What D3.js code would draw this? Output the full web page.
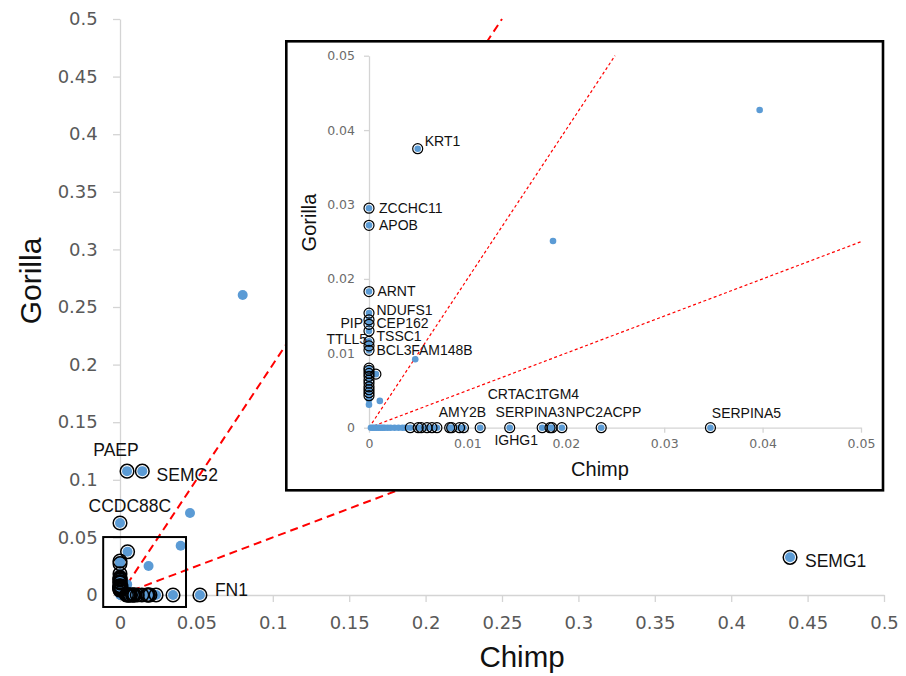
<!DOCTYPE html>
<html>
<head>
<meta charset="utf-8">
<script src="https://cdn.jsdelivr.net/npm/d3@7"></script>
<style>
  html, body { margin: 0; padding: 0; background: #ffffff; }
  svg { display: block; }
</style>
</head>
<body>
<svg id="chart" width="906" height="676"></svg>
<script>
// ---------------- data ----------------
// Genes flagged as outliers (drawn with a black ring)
const flaggedGenes = [
  "PAEP", "SEMG2", "CCDC88C", "FN1", "SEMG1",
  "KRT1", "ZCCHC11", "APOB", "ARNT", "NDUFS1", "PIP", "CEP162", "TSSC1", "TTLL5", "", "BCL3",
  "", "", "", "", "", "", "", "", "", "",
  "",
  "", "", "", "", "", "", "", "", "", "",
  "AMY2B", "IGHG1", "SERPINA3", "CRTAC1", "TGM4", "NPC2", "ACPP", "SERPINA5"
];
const flaggedChimp = [
  0.0046, 0.0146, 0.0, 0.0523, 0.4385,
  0.00495, 0, 0, 0, 0, 0, 0, 0, 0, 0, 0,
  0, 0, 0, 0, 0, 0, 0, 0, 0, 0,
  0.0007,
  0.0042, 0.0050, 0.0053, 0.0059, 0.0064, 0.0069, 0.0082, 0.0084, 0.0092, 0.0096,
  0.0113, 0.0143, 0.0176, 0.0184, 0.0186, 0.0196, 0.0236, 0.0347
];
const flaggedGorilla = [
  0.1075, 0.1075, 0.0625, 0, 0.0327,
  0.0375, 0.0295, 0.0272, 0.0183, 0.0154, 0.0145, 0.0139, 0.0130, 0.0116, 0.0110, 0.0104,
  0.0080, 0.0077, 0.0073, 0.0069, 0.0064, 0.0060, 0.0055, 0.0051, 0.0047, 0.0043,
  0.0072,
  0, 0, 0, 0, 0, 0, 0, 0, 0, 0,
  0, 0, 0, 0, 0, 0, 0, 0
];

// Remaining genes (plain markers)
const otherGenes = [
  "", "", "", "", "FAM148B", "", "", "",
  "", "", "", "", "", "", "", "", "", "", "", "", "", ""
];
const otherChimp = [
  0.0803, 0.0458, 0.0397, 0.0187, 0.0047, 0.0011, 0, 0,
  0.0002, 0.0004, 0.0006, 0.0008, 0.0010, 0.0012, 0.0014, 0.0016, 0.0019, 0.0022, 0.0026, 0.0030, 0.0034, 0.0037
];
const otherGorilla = [
  0.2604, 0.0712, 0.0427, 0.0251, 0.0092, 0.0036, 0.0031, 0.0038,
  0, 0, 0, 0, 0, 0, 0, 0, 0, 0, 0, 0, 0, 0
];

// Axis ticks
const mainTicks = [0, 0.05, 0.1, 0.15, 0.2, 0.25, 0.3, 0.35, 0.4, 0.45, 0.5];
const mainTickLabels = ["0", "0.05", "0.1", "0.15", "0.2", "0.25", "0.3", "0.35", "0.4", "0.45", "0.5"];
const insetTicks = [0, 0.01, 0.02, 0.03, 0.04, 0.05];
const insetTickLabels = ["0", "0.01", "0.02", "0.03", "0.04", "0.05"];

// Reference lines Gorilla = k * Chimp
const guideSlopes = [2, 0.5];

// Region of the main plot that the inset enlarges
const zoomChimp = [-0.011, 0.0432];
const zoomGorilla = [-0.0104, 0.0503];

// ---------------- label placement (pixel nudges) ----------------
const labelNudge = {
  PAEP: [-33.7, -15.5, "start"],
  SEMG2: [14.3, 9.5, "start"],
  CCDC88C: [-31.5, -11.3, "start"],
  FN1: [15, 1, "start"],
  SEMG1: [15, 9.4, "start"],
  KRT1: [7, -3, "start"],
  ZCCHC11: [10, 5, "start"],
  APOB: [10, 5, "start"],
  ARNT: [8.4, 4.7, "start"],
  NDUFS1: [7.5, 1.7, "start"],
  CEP162: [7.5, 4, "start"],
  PIP: [-6, 8, "end"],
  TSSC1: [7.5, 10, "start"],
  TTLL5: [-2, 2.6, "end"],
  BCL3: [7.5, 4.7, "start"],
  FAM148B: [-4, -4, "start"],
  AMY2B: [-17.7, -10.4, "middle"],
  IGHG1: [6.5, 17.3, "middle"],
  SERPINA3: [-12, -10.7, "middle"],
  CRTAC1: [-35, -28.4, "middle"],
  TGM4: [7.7, -28.4, "middle"],
  NPC2: [22.4, -10.7, "middle"],
  ACPP: [21, -10.7, "middle"],
  SERPINA5: [36, -9.4, "middle"]
};

// ---------------- build records ----------------
const flagged = flaggedGenes.map((g, i) => ({ gene: g, x: flaggedChimp[i], y: flaggedGorilla[i], ring: true }));
const others = otherGenes.map((g, i) => ({ gene: g, x: otherChimp[i], y: otherGorilla[i], ring: false }));
const allPoints = others.concat(flagged);

const BLUE = "#5b9bd5";
const AXIS = "#d4d4d4";
const LABEL_FONT = "'Liberation Sans', Arial, sans-serif";
const TICK_FONT = "'DejaVu Sans', Verdana, sans-serif";

const svg = d3.select("#chart");

// ---------------- main panel ----------------
const x = d3.scaleLinear().domain([0, 0.5]).range([120, 884]);
const y = d3.scaleLinear().domain([0, 0.5]).range([595, 19]);

function styleAxis(g, color, fontSize, fontColor) {
  g.select(".domain").attr("stroke", color).attr("stroke-width", 1.3);
  g.selectAll(".tick line").attr("stroke", color).attr("stroke-width", 1.3);
  g.selectAll(".tick text")
    .attr("fill", fontColor)
    .style("font-family", TICK_FONT)
    .style("font-size", fontSize + "px");
}

svg.append("g")
  .attr("transform", `translate(0,${y(0)})`)
  .call(d3.axisBottom(x).tickValues(mainTicks).tickFormat((d, i) => mainTickLabels[i])
    .tickSize(7).tickSizeOuter(0).tickPadding(14.7))
  .call(g => styleAxis(g, AXIS, 18, "#595959"));

svg.append("g")
  .attr("transform", `translate(${x(0)},0)`)
  .call(d3.axisLeft(y).tickValues(mainTicks).tickFormat((d, i) => mainTickLabels[i])
    .tickSize(7).tickSizeOuter(0).tickPadding(15.3))
  .call(g => styleAxis(g, AXIS, 18, "#595959"));

// axis titles
svg.append("text")
  .attr("x", 522).attr("y", 667)
  .attr("text-anchor", "middle")
  .style("font-family", LABEL_FONT).style("font-size", "29.5px")
  .attr("fill", "#111").text("Chimp");
svg.append("text")
  .attr("transform", "translate(41,281) rotate(-90)")
  .attr("text-anchor", "middle")
  .style("font-family", LABEL_FONT).style("font-size", "30px")
  .attr("fill", "#111").text("Gorilla");

// guide lines
function guideEnd(k, max) {
  return k >= 1 ? [max / k, max] : [max, max * k];
}
guideSlopes.forEach(k => {
  const end = guideEnd(k, 0.5);
  svg.append("line")
    .attr("x1", x(0)).attr("y1", y(0))
    .attr("x2", x(end[0])).attr("y2", y(end[1]))
    .attr("stroke", "#ff0000").attr("stroke-width", 2)
    .attr("stroke-dasharray", "8,5");
});

// points
function drawPoints(g, sx, sy, pts, rDot, rRing, ringWidth) {
  g.selectAll("circle.dot").data(pts).join("circle")
    .attr("class", "dot")
    .attr("cx", d => sx(d.x)).attr("cy", d => sy(d.y))
    .attr("r", rDot).attr("fill", BLUE);
  g.selectAll("circle.ring").data(pts.filter(d => d.ring)).join("circle")
    .attr("class", "ring")
    .attr("cx", d => sx(d.x)).attr("cy", d => sy(d.y))
    .attr("r", rRing).attr("fill", "none")
    .attr("stroke", "#000").attr("stroke-width", ringWidth);
}
drawPoints(svg.append("g"), x, y, allPoints, 5, 6.8, 1.5);

// zoom window box
svg.append("rect")
  .attr("x", x(zoomChimp[0])).attr("y", y(zoomGorilla[1]))
  .attr("width", x(zoomChimp[1]) - x(zoomChimp[0]))
  .attr("height", y(zoomGorilla[0]) - y(zoomGorilla[1]))
  .attr("fill", "none").attr("stroke", "#000").attr("stroke-width", 2);

// labels in main panel: genes outside the inset range
const inInset = d => d.x <= 0.05 && d.y <= 0.05;
function drawLabels(g, sx, sy, pts, size) {
  g.selectAll("text").data(pts.filter(d => d.gene && labelNudge[d.gene])).join("text")
    .attr("x", d => sx(d.x) + labelNudge[d.gene][0])
    .attr("y", d => sy(d.y) + labelNudge[d.gene][1])
    .attr("text-anchor", d => labelNudge[d.gene][2])
    .style("font-family", LABEL_FONT).style("font-size", size + "px")
    .attr("fill", "#111")
    .text(d => d.gene);
}
drawLabels(svg.append("g"), x, y, allPoints.filter(d => !inInset(d)), 17.5);

// ---------------- inset panel ----------------
const inset = svg.append("g");
inset.append("rect")
  .attr("x", 286.3).attr("y", 41.3).attr("width", 596.7).attr("height", 449)
  .attr("fill", "#ffffff").attr("stroke", "#000").attr("stroke-width", 2.6);

const ix = d3.scaleLinear().domain([0, 0.05]).range([369, 861]);
const iy = d3.scaleLinear().domain([0, 0.05]).range([427.7, 55.7]);

inset.append("g")
  .attr("transform", `translate(0,${iy(0)})`)
  .call(d3.axisBottom(ix).tickValues(insetTicks).tickFormat((d, i) => insetTickLabels[i])
    .tickSize(5).tickSizeOuter(0).tickPadding(6.9))
  .call(g => styleAxis(g, AXIS, 12.5, "#6b6b6b"));

inset.append("g")
  .attr("transform", `translate(${ix(0)},0)`)
  .call(d3.axisLeft(iy).tickValues(insetTicks).tickFormat((d, i) => insetTickLabels[i])
    .tickSize(5).tickSizeOuter(0).tickPadding(9))
  .call(g => styleAxis(g, AXIS, 12.5, "#6b6b6b"));

inset.append("text")
  .attr("x", 600).attr("y", 476)
  .attr("text-anchor", "middle")
  .style("font-family", LABEL_FONT).style("font-size", "20px")
  .attr("fill", "#111").text("Chimp");
inset.append("text")
  .attr("transform", "translate(315.5,222.5) rotate(-90)")
  .attr("text-anchor", "middle")
  .style("font-family", LABEL_FONT).style("font-size", "20px")
  .attr("fill", "#111").text("Gorilla");

guideSlopes.forEach(k => {
  const end = guideEnd(k, 0.05);
  inset.append("line")
    .attr("x1", ix(0)).attr("y1", iy(0))
    .attr("x2", ix(end[0])).attr("y2", iy(end[1]))
    .attr("stroke", "#ff0000").attr("stroke-width", 1.2)
    .attr("stroke-dasharray", "3,2.5");
});

const insetPoints = allPoints.filter(inInset);
drawPoints(inset.append("g"), ix, iy, insetPoints, 3.3, 5, 1.2);
drawLabels(inset.append("g"), ix, iy, insetPoints, 14);
</script>
</body>
</html>
